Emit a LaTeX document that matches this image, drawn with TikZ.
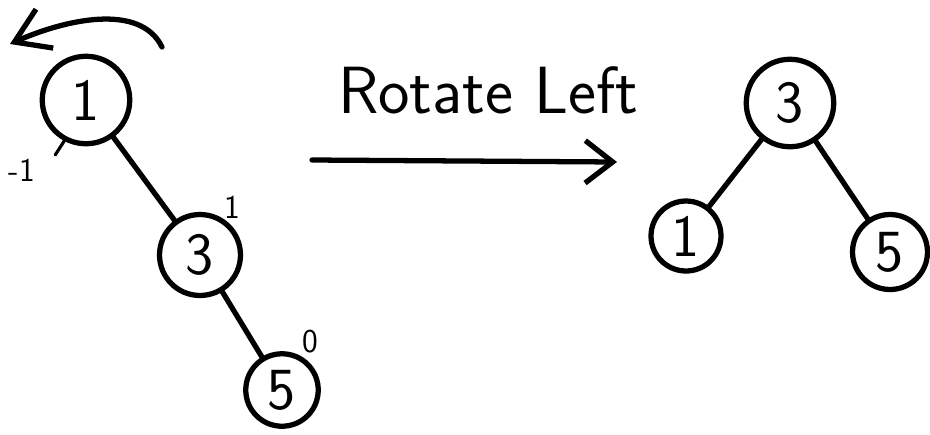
\documentclass[tikz,border=0pt]{standalone}
\usepackage{fontspec}
\usetikzlibrary{arrows.meta,calc}

\begin{document}
\begin{tikzpicture}[x=0.02cm,y=-0.02cm,line cap=round,line join=round]
	\tikzstyle{key}=[draw,line width=3pt,circle,inner sep=0pt,font=\fontsize{34}{34}\selectfont\sffamily]
	\tikzstyle{edge}=[line width=3pt]
	\tikzstyle{bal}=[font=\fontsize{19}{19}\selectfont\sffamily]

	\useasboundingbox (0,0) rectangle (930,434);

	\node (L1) [key, minimum size=1.75cm] at (86,100) {1};
	\node (L3) [key, minimum size=1.62cm] at (200,255) {3};
	\node (L5) [key, minimum size=1.45cm] at (282,390) {5};

	\draw [edge] (L1) -- (L3);
	\draw [edge] (L3) -- (L5);

	\draw [line width=1.8pt] (L1.-118) -- ++(-9,14);
	\node (b1) [bal] at (22,170) {-1};
	\node (b3) [bal] at (232,207) {1};
	\node (b5) [bal] at (310,342) {0};

	\coordinate (rotstart) at (162,47);
	\coordinate (rotend) at (10,44);
	\draw [edge, -{Straight Barb[length=0.66cm,width=0.85cm]}] (rotstart) .. controls (140,2) and (64,20) .. (rotend);

	\node (title) [font=\fontsize{38}{38}\selectfont\sffamily] at (488,90) {Rotate Left};
	\coordinate (from) at (312,160);
	\coordinate (to) at (617,162);
	\draw [edge, -{Straight Barb[length=0.55cm,width=0.85cm]}] (from) -- (to);

	\node (R3) [key, minimum size=1.75cm] at (790,103) {3};
	\node (R1) [key, minimum size=1.4cm] at (686,236) {1};
	\node (R5) [key, minimum size=1.5cm] at (890,252) {5};

	\draw [edge] (R3) -- (R1);
	\draw [edge] (R3) -- (R5);
\end{tikzpicture}
\end{document}
